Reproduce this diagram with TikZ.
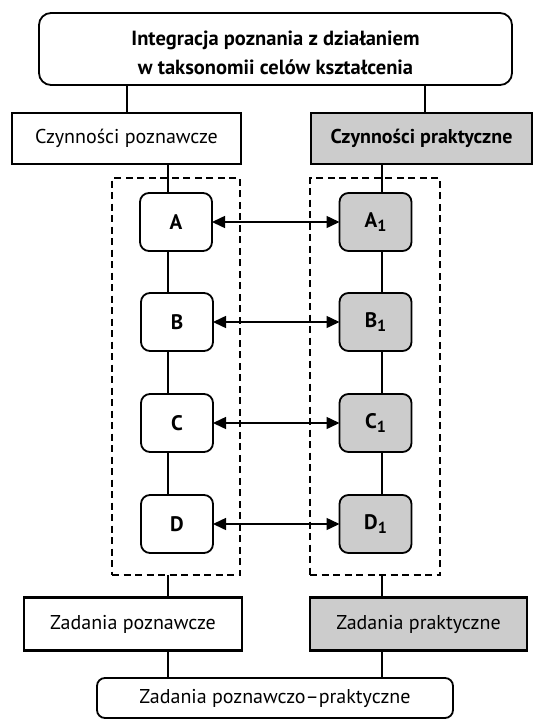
\documentclass[tikz,border=0pt]{standalone}
\usepackage{fontspec}
\setmainfont{PT Sans}
\usetikzlibrary{arrows.meta}
\definecolor{shade}{gray}{0.8}
\newcommand{\subone}{\raisebox{-0.45ex}{\fontsize{16}{16}\selectfont 1}}
\begin{document}
\begin{tikzpicture}[x=1pt,y=-1pt,
  every node/.style={inner sep=0pt,outer sep=0pt,align=center},
  titlebox/.style={draw,line width=1.8pt,rounded corners=12pt,minimum width=473pt,minimum height=72pt,font=\fontsize{20.5}{28}\selectfont\bfseries},
  headbox/.style={draw,line width=2pt,minimum height=51pt,font=\fontsize{20}{22}\selectfont},
  taskbox/.style={draw,line width=2.6pt,minimum height=53pt,font=\fontsize{20}{22}\selectfont},
  letterbox/.style={draw,line width=1.8pt,rounded corners=9pt,minimum width=72pt,minimum height=58pt,font=\fontsize{21}{21}\selectfont\bfseries},
  grey/.style={fill=shade},
  dashbox/.style={draw,line width=1.8pt,dash pattern=on 7pt off 4.5pt},
  link/.style={line width=1.5pt},
  twoway/.style={line width=1.5pt,{Triangle[length=13pt,width=12pt]}-{Triangle[length=13pt,width=12pt]}},
  endbox/.style={draw,line width=1.8pt,rounded corners=8pt,minimum width=356pt,minimum height=40pt,font=\fontsize{20}{22}\selectfont}
]
\useasboundingbox (0,0) rectangle (537,720);
\fill[white] (0,0) rectangle (537,720);

\node[titlebox] (top) at (275.5,49) {\raisebox{-5pt}[\height][\depth]{\begin{tabular}{@{}c@{}}Integracja poznania z działaniem\\[1pt]w taksonomii celów kształcenia\end{tabular}}};
\node[headbox,minimum width=229pt] (cp) at (126.5,138) {Czynności poznawcze};
\node[headbox,grey,minimum width=221pt,font=\fontsize{20}{22}\selectfont\bfseries] (cpr) at (421.5,138) {Czynności praktyczne};

\node[dashbox,minimum width=128pt,minimum height=397pt] (dl) at (176,376.5) {};
\node[dashbox,minimum width=130pt,minimum height=397pt] (dr) at (375,376.5) {};

\node[letterbox] (a) at (176,222) {A};
\node[letterbox] (b) at (177,322) {B};
\node[letterbox] (c) at (177,423) {C};
\node[letterbox] (d) at (177,524) {D};
\node[letterbox,grey] (a1) at (375.5,222) {A\subone};
\node[letterbox,grey] (b1) at (375.5,322) {B\subone};
\node[letterbox,grey] (c1) at (375.5,423) {C\subone};
\node[letterbox,grey] (d1) at (375.5,524) {D\subone};

\node[taskbox,minimum width=218pt] (zp) at (133,624) {Zadania poznawcze};
\node[taskbox,grey,minimum width=217pt] (zpr) at (418.5,624) {Zadania praktyczne};
\node[endbox] (end) at (275,698) {Zadania poznawczo--praktyczne};

\coordinate (tl) at (127,0);
\coordinate (tr) at (425,0);
\coordinate (ll) at (168,0);
\coordinate (lr) at (382,0);

\draw[link] (top.south -| tl) -- (cp.north -| tl);
\draw[link] (top.south -| tr) -- (cpr.north -| tr);
\draw[link] (cp.south -| ll) -- (a.north -| ll);
\draw[link] (a.south -| ll) -- (b.north -| ll);
\draw[link] (b.south -| ll) -- (c.north -| ll);
\draw[link] (c.south -| ll) -- (d.north -| ll);
\draw[link] (cpr.south -| lr) -- (a1.north -| lr);
\draw[link] (a1.south -| lr) -- (b1.north -| lr);
\draw[link] (b1.south -| lr) -- (c1.north -| lr);
\draw[link] (c1.south -| lr) -- (d1.north -| lr);
\draw[link] (dl.south -| ll) -- (zp.north -| ll);
\draw[link] (dr.south -| lr) -- (zpr.north -| lr);
\draw[link] (zp.south -| ll) -- (end.north -| ll);
\draw[link] (zpr.south -| lr) -- (end.north -| lr);

\draw[twoway] (a.east) -- (a1.west);
\draw[twoway] (b.east) -- (b1.west);
\draw[twoway] (c.east) -- (c1.west);
\draw[twoway] (d.east) -- (d1.west);
\end{tikzpicture}
\end{document}
